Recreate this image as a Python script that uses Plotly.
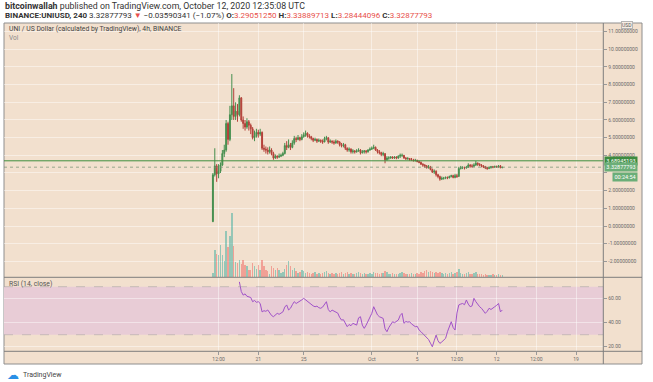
import plotly.graph_objects as go
import pandas as pd

W, H = 653, 382

# ---------------- data ----------------
times = pd.date_range("2020-09-17 00:00", periods=154, freq="4h")
open_first = 0.25
closes = [2.90, 3.40, 2.95, 3.10, 3.45, 4.10, 4.30, 5.80, 4.90, 6.30,
          6.80, 6.20, 6.50, 6.30, 7.25, 6.00, 5.80, 5.60, 5.90, 5.70,
          5.50, 5.00, 5.10, 5.30, 5.20, 5.30, 4.40, 4.35, 4.30, 4.20,
          4.30, 4.10, 3.85, 3.95, 3.90, 3.95, 4.00, 4.10, 4.55, 4.45,
          4.60, 4.45, 4.70, 4.95, 4.90, 5.00, 4.90, 5.05, 5.15, 5.25,
          5.10, 5.05, 4.95, 4.85, 4.90, 4.80, 4.85, 4.80, 4.75, 4.95,
          5.00, 4.75, 4.80, 4.75, 4.70, 4.80, 4.75, 4.60, 4.55, 4.60,
          4.40, 4.30, 4.35, 4.20, 4.25, 4.20, 4.25, 4.30, 4.15, 4.20,
          4.25, 4.20, 4.30, 4.35, 4.40, 4.45, 4.30, 4.20, 4.15, 4.05,
          4.10, 3.75, 3.85, 3.85, 3.90, 3.85, 3.90, 3.85, 3.95, 4.00,
          4.00, 3.85, 3.80, 3.82, 3.75, 3.75, 3.70, 3.72, 3.65, 3.60,
          3.50, 3.45, 3.40, 3.30, 3.35, 3.20, 3.05, 3.10, 2.90, 2.80,
          2.65, 2.70, 2.70, 2.75, 2.72, 2.80, 2.85, 2.75, 2.85, 2.80,
          3.25, 3.30, 3.30, 3.28, 3.32, 3.45, 3.40, 3.38, 3.45, 3.55,
          3.50, 3.45, 3.40, 3.35, 3.30, 3.25, 3.30, 3.35, 3.33, 3.36,
          3.35, 3.40, 3.2905125, 3.32877793]
highs = [3.00, 4.40, 3.50, 3.50, 3.60, 4.30, 4.60, 6.00, 5.90, 6.80,
         8.60, 7.80, 7.00, 6.90, 7.40, 7.30, 6.20, 6.00, 6.10, 6.00,
         5.80, 5.60, 5.40, 5.50, 5.45, 5.50, 5.35, 4.60, 4.50, 4.45,
         4.50, 4.40, 4.20, 4.05, 4.00, 4.10, 4.10, 4.20, 4.70, 4.80,
         4.90, 4.70, 4.85, 5.10, 5.05, 5.15, 5.05, 5.20, 5.30, 5.40,
         5.30, 5.20, 5.10, 5.00, 5.00, 4.95, 4.95, 4.90, 4.90, 5.05,
         5.10, 5.00, 4.90, 4.85, 4.85, 4.90, 4.85, 4.80, 4.70, 4.70,
         4.65, 4.45, 4.45, 4.40, 4.35, 4.30, 4.35, 4.40, 4.35, 4.30,
         4.30, 4.30, 4.35, 4.45, 4.50, 4.60, 4.50, 4.35, 4.30, 4.20,
         4.20, 4.10, 3.95, 3.95, 3.95, 3.95, 3.95, 3.95, 4.00, 4.10,
         4.10, 4.00, 3.90, 3.90, 3.85, 3.85, 3.80, 3.80, 3.75, 3.70,
         3.65, 3.55, 3.50, 3.45, 3.45, 3.40, 3.25, 3.20, 3.15, 2.95,
         2.85, 2.80, 2.78, 2.80, 2.80, 2.85, 2.90, 2.90, 2.95, 2.95,
         3.35, 3.40, 3.38, 3.36, 3.40, 3.55, 3.50, 3.50, 3.55, 3.68,
         3.60, 3.55, 3.50, 3.45, 3.40, 3.35, 3.38, 3.40, 3.40, 3.42,
         3.42, 3.45, 3.45, 3.33889713]
lows = [0.22, 2.80, 2.50, 2.70, 3.00, 3.40, 3.90, 4.20, 4.60, 4.80,
        6.00, 6.00, 6.00, 5.90, 6.20, 5.90, 5.50, 5.40, 5.50, 5.40,
        5.20, 4.90, 4.80, 5.00, 5.00, 5.10, 4.30, 4.20, 4.10, 4.05,
        4.10, 4.00, 3.75, 3.80, 3.80, 3.85, 3.90, 3.95, 4.05, 4.30,
        4.40, 4.30, 4.40, 4.60, 4.75, 4.85, 4.80, 4.85, 5.00, 5.05,
        5.00, 4.95, 4.85, 4.75, 4.80, 4.70, 4.75, 4.70, 4.65, 4.75,
        4.85, 4.65, 4.70, 4.65, 4.60, 4.65, 4.65, 4.50, 4.45, 4.45,
        4.30, 4.20, 4.20, 4.10, 4.10, 4.10, 4.15, 4.20, 4.05, 4.10,
        4.10, 4.10, 4.15, 4.25, 4.30, 4.35, 4.25, 4.10, 4.05, 3.95,
        3.95, 3.55, 3.70, 3.75, 3.80, 3.80, 3.80, 3.78, 3.80, 3.85,
        3.90, 3.80, 3.75, 3.75, 3.70, 3.70, 3.65, 3.65, 3.60, 3.55,
        3.45, 3.35, 3.30, 3.25, 3.25, 3.15, 3.00, 2.95, 2.80, 2.70,
        2.56, 2.60, 2.62, 2.65, 2.65, 2.70, 2.75, 2.70, 2.70, 2.72,
        2.80, 3.20, 3.22, 3.20, 3.25, 3.30, 3.30, 3.30, 3.35, 3.40,
        3.40, 3.38, 3.32, 3.28, 3.22, 3.18, 3.22, 3.25, 3.27, 3.30,
        3.30, 3.30, 3.28, 3.28444096]
volume_m = [1.0, 6.75, 5.75, 5.5, 8.0, 5.5, 4.0, 11.5, 7.5, 10.25,
            16.0, 7.75, 3.75, 3.5, 4.25, 3.25, 4.25, 3.0, 2.75, 1.75,
            1.75, 3.5, 2.75, 2.0, 3.0, 1.75, 4.25, 2.75, 1.75, 1.5,
            0.75, 2.75, 2.25, 1.75, 2.25, 1.75, 1.0, 1.25, 2.0, 3.0,
            4.0, 2.75, 1.75, 2.25, 1.5, 1.0, 1.25, 1.75, 1.5, 1.0,
            1.25, 1.0, 0.75, 1.0, 1.25, 0.75, 1.0, 0.75, 1.0, 1.25,
            1.5, 1.0, 0.75, 1.0, 0.75, 1.0, 0.75, 1.0, 1.25, 0.75,
            1.0, 1.25, 0.75, 1.0, 0.75, 0.75, 1.0, 1.25, 1.0, 0.75,
            1.0, 0.75, 0.75, 1.0, 0.75, 1.25, 1.0, 1.0, 0.75, 1.0,
            1.0, 1.5, 1.25, 0.75, 0.75, 1.0, 0.75, 0.75, 0.75, 1.0,
            1.25, 1.0, 0.75, 0.75, 0.75, 1.0, 0.75, 0.75, 1.0, 0.75,
            1.25, 1.0, 1.5, 1.75, 1.25, 1.5, 1.25, 1.0, 1.25, 1.0,
            1.25, 1.0, 0.75, 1.0, 0.75, 1.0, 1.25, 0.75, 1.0, 1.25,
            2.0, 1.0, 0.75, 0.75, 1.0, 1.25, 0.75, 0.75, 1.0, 1.25,
            0.75, 0.75, 0.75, 0.5, 0.75, 0.5, 0.5, 0.5, 0.75, 0.5,
            0.5, 0.75, 0.5, 0.5]
rsi_start = 14
rsi = [74, 66, 63, 64, 62, 61.5, 61, 57.5, 58.5, 57,
       57.5, 56, 49, 50, 49.5, 50.6, 48, 46, 45, 46.5,
       47.8, 47, 48, 49, 53, 54.8, 50.6, 52, 55, 57.5,
       56, 57, 57.5, 59, 60.3, 59, 57.5, 56, 55.5, 54,
       53.3, 53.8, 52.5, 52, 53, 55.5, 57.5, 51, 49, 50.5,
       49.5, 49, 48, 44.5, 42.2, 42.5, 40, 36.7, 38.5, 37.5,
       39.5, 38.5, 38, 44, 45, 38, 35.3, 38, 41.5, 45,
       47.8, 53.3, 49, 46.5, 45, 44.2, 43.6, 35, 32.5, 36,
       38.5, 40.8, 40, 41, 42.2, 46, 47.8, 39.5, 41, 40.5,
       40.8, 39, 38, 36.7, 37, 33.9, 32.5, 31, 29.5, 28.3,
       26, 23, 20, 25, 29.7, 25, 22.8, 24, 26, 27,
       32.5, 36, 40.8, 36, 33.9, 48, 54.8, 55.5, 56, 55,
       58.9, 55.5, 53.3, 54, 60.3, 57.5, 55, 53.3, 52, 49.5,
       47.8, 49.5, 52, 51, 52.5, 53.3, 54.5, 56, 49, 50.6]
level_price = 3.68945193
last_price = 3.32877793

price_ticks = list(range(-2, 12))
# the 3.00 label sits under the price boxes in the reference
price_ticktext = ["" if v == 3 else "%.8f" % v for v in price_ticks]
rsi_ticks = [20, 40, 60]
time_tickvals = ["2020-09-17 12:00", "2020-09-21", "2020-09-25", "2020-10-01",
                 "2020-10-05", "2020-10-08 12:00", "2020-10-12", "2020-10-15 12:00",
                 "2020-10-19"]
time_ticktext = ["12:00", "21", "25", "Oct", "5", "12:00", "12", "12:00", "19"]

assert len(closes) == len(highs) == len(lows) == len(volume_m) == len(times)
assert len(rsi) == len(times) - rsi_start

opens = [open_first] + closes[:-1]
highs = [max(h, o, c) for h, o, c in zip(highs, opens, closes)]
lows = [min(l, o, c) for l, o, c in zip(lows, opens, closes)]

# ---------------- style ----------------
PEACH = "#F2E0CE"
GREEN = "#458F4F"
RED = "#B4413A"
VOL_UP = "rgba(38,166,154,0.45)"
VOL_DN = "rgba(239,83,80,0.45)"
GRID = "rgba(255,255,255,0.45)"
FRAME = "#8E8E8E"
FONT = "Roboto"


def px(x):
    return x / W


def py(y):
    return 1 - y / H


X0, X1 = 4, 603.3
Y_TOP, Y_SEP, Y_RSI_BOT, Y_BOT = 23, 277.3, 351.3, 364
X_RIGHT = 642

fig = go.Figure()

fig.add_trace(go.Bar(
    x=times, y=volume_m, xaxis="x2", yaxis="y3",
    marker=dict(color=[VOL_UP if c >= o else VOL_DN for o, c in zip(opens, closes)],
                line=dict(width=0)),
    width=4 * 3600 * 1000 * 0.75, showlegend=False, hoverinfo="skip"))

fig.add_trace(go.Candlestick(
    x=times, open=opens, high=highs, low=lows, close=closes,
    xaxis="x2", yaxis="y",
    increasing=dict(line=dict(color=GREEN, width=1), fillcolor=GREEN),
    decreasing=dict(line=dict(color=RED, width=1), fillcolor=RED),
    whiskerwidth=0, showlegend=False))

fig.add_trace(go.Scatter(
    x=times[rsi_start:], y=rsi, xaxis="x", yaxis="y2", mode="lines",
    line=dict(color="#A052C8", width=1), showlegend=False))

axis_font = dict(family=FONT, size=5, color="#6A6A6A")

fig.update_layout(
    width=W, height=H, margin=dict(l=0, r=0, t=0, b=0),
    paper_bgcolor="white", plot_bgcolor="rgba(0,0,0,0)",
    font=dict(family=FONT),
    bargap=0,
    xaxis=dict(domain=[px(X0), px(X1)], anchor="y2", type="date",
               range=["2020-08-29 14:17", "2020-10-21 09:30"],
               tickvals=time_tickvals, ticktext=time_ticktext,
               ticks="outside", ticklen=3, tickcolor="#999",
               tickfont=axis_font, showgrid=True, gridcolor=GRID, gridwidth=1,
               zeroline=False, showline=False, rangeslider=dict(visible=False),
               automargin=False),
    xaxis2=dict(domain=[px(X0), px(X1)], anchor="y", matches="x", type="date",
                tickvals=time_tickvals, showticklabels=False, ticks="",
                showgrid=True, gridcolor=GRID, zeroline=False, showline=False,
                rangeslider=dict(visible=False), automargin=False),
    yaxis=dict(domain=[py(Y_SEP), py(Y_TOP)], anchor="x2", side="right",
               range=[-2.903, 11.488], tickvals=price_ticks, ticktext=price_ticktext,
               ticks="outside", ticklen=3, tickcolor="#999", tickfont=axis_font,
               showgrid=True, gridcolor=GRID, zeroline=False, showline=False,
               automargin=False),
    yaxis3=dict(overlaying="y", anchor="x2", range=[0, 63.5], visible=False),
    yaxis2=dict(domain=[py(Y_RSI_BOT), py(Y_SEP)], anchor="x", side="right",
                range=[16.2, 77.8], tickvals=rsi_ticks, tickformat=".2f",
                ticks="outside", ticklen=3, tickcolor="#999", tickfont=axis_font,
                showgrid=True, gridcolor=GRID, zeroline=False, showline=False,
                automargin=False),
)

shapes = [
    dict(type="rect", xref="paper", yref="paper", x0=px(X0), x1=px(X_RIGHT),
         y0=py(Y_BOT), y1=py(Y_TOP), fillcolor=PEACH,
         line=dict(color=FRAME, width=1), layer="below"),
    dict(type="rect", xref="paper", yref="y2", x0=px(X0), x1=px(X1), y0=30, y1=70,
         fillcolor="#E8CCD6", line=dict(width=0), layer="below"),
    dict(type="line", xref="paper", yref="y2", x0=px(X0), x1=px(X1), y0=70, y1=70,
         line=dict(color="rgba(150,150,150,0.45)", width=1, dash="dash")),
    dict(type="line", xref="paper", yref="y2", x0=px(X0), x1=px(X1), y0=30, y1=30,
         line=dict(color="rgba(150,150,150,0.45)", width=1, dash="dash")),
    dict(type="line", xref="paper", yref="paper", x0=px(X0), x1=px(X_RIGHT),
         y0=py(Y_SEP), y1=py(Y_SEP), line=dict(color="#7E7E7E", width=1)),
    dict(type="line", xref="paper", yref="paper", x0=px(X0), x1=px(X_RIGHT),
         y0=py(Y_RSI_BOT), y1=py(Y_RSI_BOT), line=dict(color="#7E7E7E", width=1)),
    dict(type="line", xref="paper", yref="paper", x0=px(X1), x1=px(X1),
         y0=py(Y_BOT), y1=py(Y_TOP), line=dict(color="#7E7E7E", width=1)),
    dict(type="line", xref="paper", yref="y", x0=px(X0), x1=px(X1),
         y0=level_price, y1=level_price, line=dict(color="#3F8F3F", width=1)),
    dict(type="line", xref="paper", yref="y", x0=px(X0), x1=px(X1),
         y0=last_price, y1=last_price,
         line=dict(color="rgba(110,140,110,0.7)", width=1, dash="dot")),
]
fig.update_layout(shapes=shapes)

RED_TXT = "#E8504A"
ann = [
    dict(x=px(3), y=py(6), text="<b>bitcoinwallah</b> published on TradingView.com, October 12, 2020 12:35:08 UTC",
         font=dict(size=8.8, color="#333")),
    dict(x=px(3), y=py(15.5),
         text=("<b>BINANCE:UNIUSD, 240</b> 3.32877793 <span style='color:%s'>▼</span> "
               "−0.03590341 (−1.07%%) <b>O:</b><span style='color:%s'>3.29051250</span> "
               "<b>H:</b><span style='color:%s'>3.33889713</span> "
               "<b>L:</b><span style='color:%s'>3.28444096</span> "
               "<b>C:</b><span style='color:%s'>3.32877793</span>") % ((RED_TXT,) * 5),
         font=dict(size=8, color="#333")),
    dict(x=px(7), y=py(29), text="UNI / US Dollar (calculated by TradingView), 4h, BINANCE",
         font=dict(size=6.8, color="#444")),
    dict(x=px(7), y=py(37.5), text="Vol", font=dict(size=6.5, color="#8A8A8A")),
    dict(x=px(7), y=py(283.5), text="RSI (14, close)", font=dict(size=6.8, color="#555")),
    dict(x=px(21), y=py(375), text="TradingView", font=dict(size=7, color="#444")),
    dict(x=px(5), y=py(374.5), text="☁", font=dict(size=12, color="#2A8FE6")),
]
for a in ann:
    a.update(xref="paper", yref="paper", xanchor="left", yanchor="middle",
             showarrow=False)
    fig.add_annotation(**a)

box_font = dict(family=FONT, size=5.5, color="white")
fig.add_annotation(x=px(604), y=level_price, xref="paper", yref="y", xanchor="left",
                   yanchor="middle", text="3.68945193", showarrow=False,
                   bgcolor="#3D8B40", font=box_font, width=30, borderpad=1)
fig.add_annotation(x=px(604), y=last_price, xref="paper", yref="y", xanchor="left",
                   yanchor="middle", text="3.32877793", showarrow=False,
                   bgcolor="#6BAE78", font=box_font, width=30, borderpad=1)
fig.add_annotation(x=px(638), y=py(177.5), xref="paper", yref="paper", xanchor="right",
                   yanchor="middle", text="00:24:54", showarrow=False,
                   bgcolor="#6BAE78", font=box_font, width=22, borderpad=1)
fig.add_annotation(x=px(627), y=py(25.5), xref="paper", yref="paper", xanchor="center",
                   yanchor="middle", text="USD", showarrow=False,
                   bgcolor="#F7EDE3", bordercolor="#B5B5B5", borderwidth=1,
                   font=dict(family=FONT, size=5, color="#555"), borderpad=0)

fig.write_html("out.html", config={"displayModeBar": False},
               post_script="document.body.style.margin='0';document.body.style.overflow='hidden';")
